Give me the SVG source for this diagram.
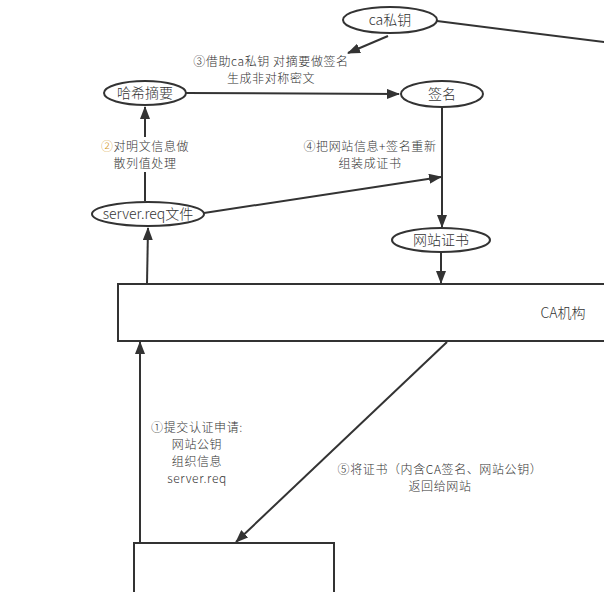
<svg xmlns="http://www.w3.org/2000/svg" width="604" height="592" viewBox="0 0 604 592">
<defs>
<style>
.n{fill:#fff;stroke:#333;stroke-width:2}
.e{stroke:#333;stroke-width:2;fill:none}
text{font-family:"Noto Sans CJK SC","Noto Sans",sans-serif;font-size:12px;letter-spacing:0.6px;font-weight:300;fill:#333;text-anchor:middle}
.t{font-size:14px;letter-spacing:0}
</style>
<marker id="a" markerUnits="userSpaceOnUse" markerWidth="13" markerHeight="10" refX="12" refY="5" orient="auto">
<path d="M0,0 L13,5 L0,10 Z" fill="#333"/>
</marker>
</defs>
<rect width="604" height="592" fill="#fff"/>
<g id="connectors">
<line class="e" x1="437" y1="21" x2="620" y2="44"/>
<line class="e" x1="388" y1="36" x2="348" y2="53" marker-end="url(#a)"/>
<line class="e" x1="186" y1="93" x2="399" y2="94" marker-end="url(#a)"/>
<line class="e" x1="442" y1="107" x2="442" y2="227" marker-end="url(#a)"/>
<line class="e" x1="145" y1="201" x2="145" y2="107" marker-end="url(#a)"/>
<line class="e" x1="204" y1="213" x2="441" y2="177" marker-end="url(#a)"/>
<line class="e" x1="441" y1="253" x2="441" y2="283" marker-end="url(#a)"/>
<line class="e" x1="147" y1="284" x2="148" y2="228" marker-end="url(#a)"/>
<line class="e" x1="140" y1="543" x2="140" y2="342" marker-end="url(#a)"/>
<line class="e" x1="447" y1="342" x2="236" y2="542" marker-end="url(#a)"/>
</g>
<g id="label3">
<text x="271" y="66">③借助ca私钥 对摘要做签名</text>
<text x="271" y="83">生成非对称密文</text>
</g>
<g id="label2">
<rect x="95" y="137" width="100" height="35" fill="#fff"/>
<text x="145" y="151"><tspan fill="#d49a2a">②</tspan>对明文信息做</text>
<text x="145" y="168">散列值处理</text>
</g>
<g id="label4">
<text x="370" y="151">④把网站信息+签名重新</text>
<text x="370" y="168">组装成证书</text>
</g>
<g id="label1">
<text x="197" y="432">①提交认证申请:</text>
<text x="197" y="449">网站公钥</text>
<text x="197" y="466">组织信息</text>
<text x="197" y="483">server.req</text>
</g>
<g id="label5">
<text x="440" y="474">⑤将证书（内含CA签名、网站公钥）</text>
<text x="440" y="491">返回给网站</text>
</g>
<g id="ca-key">
<ellipse class="n" cx="390" cy="20" rx="47" ry="13"/>
<text class="t" x="390" y="25">ca私钥</text>
</g>
<g id="hash">
<ellipse class="n" cx="145" cy="93" rx="41" ry="12"/>
<text class="t" x="145" y="98">哈希摘要</text>
</g>
<g id="sign">
<ellipse class="n" cx="442" cy="94" rx="41" ry="13"/>
<text class="t" x="442" y="99">签名</text>
</g>
<g id="server-req">
<ellipse class="n" cx="148" cy="214" rx="56" ry="12"/>
<text class="t" x="148" y="219">server.req文件</text>
</g>
<g id="cert">
<ellipse class="n" cx="441" cy="240" rx="49" ry="12"/>
<text class="t" x="441" y="245">网站证书</text>
</g>
<g id="ca">
<rect class="n" x="118" y="284" width="500" height="57"/>
<text class="t" x="563" y="318">CA机构</text>
</g>
<g id="website">
<rect class="n" x="134" y="543" width="200" height="60"/>
</g>
</svg>
